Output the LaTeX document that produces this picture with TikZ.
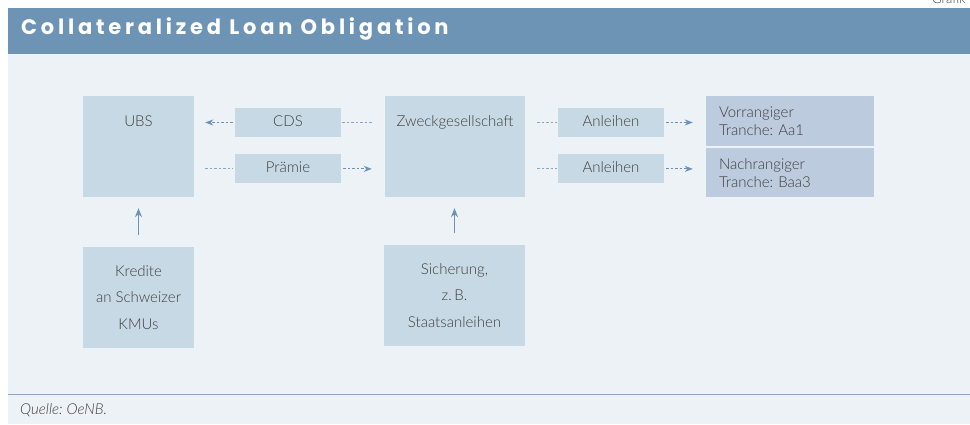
\documentclass[tikz,border=0pt]{standalone}
\usepackage{fontspec}
\setmainfont{Lato}[UprightFont=* Light, ItalicFont=* Light Italic, BoldFont=* Black]
\newfontfamily\titlefont{Poppins}[LetterSpace=18, Ligatures=NoCommon]
\frenchspacing
\usetikzlibrary{positioning, arrows.meta}
\usepackage{xcolor}
\definecolor{headblue}{RGB}{109,147,181}
\definecolor{panelblue}{RGB}{237,242,247}
\definecolor{boxblue}{RGB}{200,217,230}
\definecolor{tranblue}{RGB}{189,203,222}
\definecolor{txtgray}{RGB}{62,62,62}
\definecolor{arrowblue}{RGB}{108,146,184}
\definecolor{dotblue}{RGB}{135,165,200}
\definecolor{ruleblue}{RGB}{140,167,198}

\begin{document}
\begin{tikzpicture}[x=1pt, y=-1pt,
                box/.style={rectangle, fill=boxblue, inner sep=0pt, text=txtgray, align=center, font=\fontsize{15}{26.5}\selectfont},
                bigbox/.style={box, minimum width=111pt, minimum height=101pt},
                smallbox/.style={box, minimum width=106pt, minimum height=29pt, text height=11pt, text depth=3pt},
                tranche/.style={box, fill=tranblue, minimum width=168pt, align=left, text width=142pt, font=\fontsize{15}{17.5}\selectfont},
                toplabel/.style={anchor=center, yshift=-27pt, text=txtgray, font=\fontsize{15}{17}\selectfont, text height=11pt, text depth=3pt},
                dotline/.style={dotblue, line width=0.9pt, dash pattern=on 2.5pt off 2pt},
                dotarrow/.style={dotline, -{Stealth[length=8pt, width=6pt, inset=2.5pt]}, arrowblue},
                uparrow/.style={arrowblue, line width=1pt, -{Stealth[length=9pt, width=7pt, inset=3pt]}}
            ]
            \useasboundingbox (0,0) rectangle (970,425);

            % Frame
            \fill[panelblue] (8,54) rectangle (970,424);
            \fill[headblue] (8,8) rectangle (970,54);
            \draw[ruleblue, line width=1pt] (8,394) -- (970,394);
            \node[anchor=base west, inner sep=0pt, text=white, font=\titlefont\bfseries\fontsize{21}{23}\selectfont] (title) at (21,35) {Collateralized Loan Obligation};
            \node[anchor=base west, inner sep=0pt, text=txtgray, font=\fontsize{13}{15}\selectfont] (grafik) at (932,3.5) {Grafik 1};
            \node[anchor=base west, inner sep=0pt, text=txtgray, font=\itshape\fontsize{15}{17}\selectfont] (quelle) at (20,414) {Quelle: OeNB.};

            % Main boxes
            \node[bigbox, label={[toplabel]north:UBS}] (ubs) at (138.5,146.5) {};
            \node[bigbox, minimum width=140pt, label={[toplabel]north:Zweckgesellschaft}] (zweck) at (455,146.5) {};
            \node[bigbox] (kredite) at (138.5,297.5) {Kredite\\an Schweizer\\KMUs};
            \node[bigbox, minimum width=141pt] (sicherung) at (454.5,295.5) {Sicherung,\\z.\,B.\\Staatsanleihen};

            % Flow boxes
            \node[smallbox] (cds) at (288,122.5) {CDS};
            \node[smallbox, below=17pt of cds] (praemie) {Prämie};
            \node[smallbox] (anl1) at (611,122.5) {Anleihen};
            \node[smallbox, below=17pt of anl1] (anl2) {Anleihen};

            % Tranches
            \node[tranche, minimum height=50pt] (vorr) at (790,121) {Vorrangiger\\Tranche: Aa1};
            \node[tranche, minimum height=49pt, below=2pt of vorr] (nach) {Nachrangiger\\Tranche: Baa3};

            % Arrows
            \draw[dotarrow, shorten <=2pt, shorten >=11pt] (cds.west) -- (cds.west -| ubs.east);
            \draw[dotline, shorten <=1pt, shorten >=13pt] (cds.east) -- (cds.east -| zweck.west);
            \draw[dotline, shorten <=11pt, shorten >=2pt] (ubs.east |- praemie.west) -- (praemie.west);
            \draw[dotarrow, shorten <=2pt, shorten >=13pt] (praemie.east) -- (praemie.east -| zweck.west);
            \draw[dotline, shorten <=12pt, shorten >=1pt] (zweck.east |- anl1.west) -- (anl1.west);
            \draw[dotline, shorten <=12pt, shorten >=1pt] (zweck.east |- anl2.west) -- (anl2.west);
            \draw[dotarrow, shorten <=2pt, shorten >=13pt] (anl1.east) -- (anl1.east -| vorr.west);
            \draw[dotarrow, shorten <=2pt, shorten >=13pt] (anl2.east) -- (anl2.east -| nach.west);
            \draw[uparrow, shorten <=12pt, shorten >=11pt] (kredite.north) -- (ubs.south);
            \draw[uparrow, shorten <=12pt, shorten >=11pt] (sicherung.north) -- (sicherung.north |- zweck.south);
        \end{tikzpicture}
\end{document}
